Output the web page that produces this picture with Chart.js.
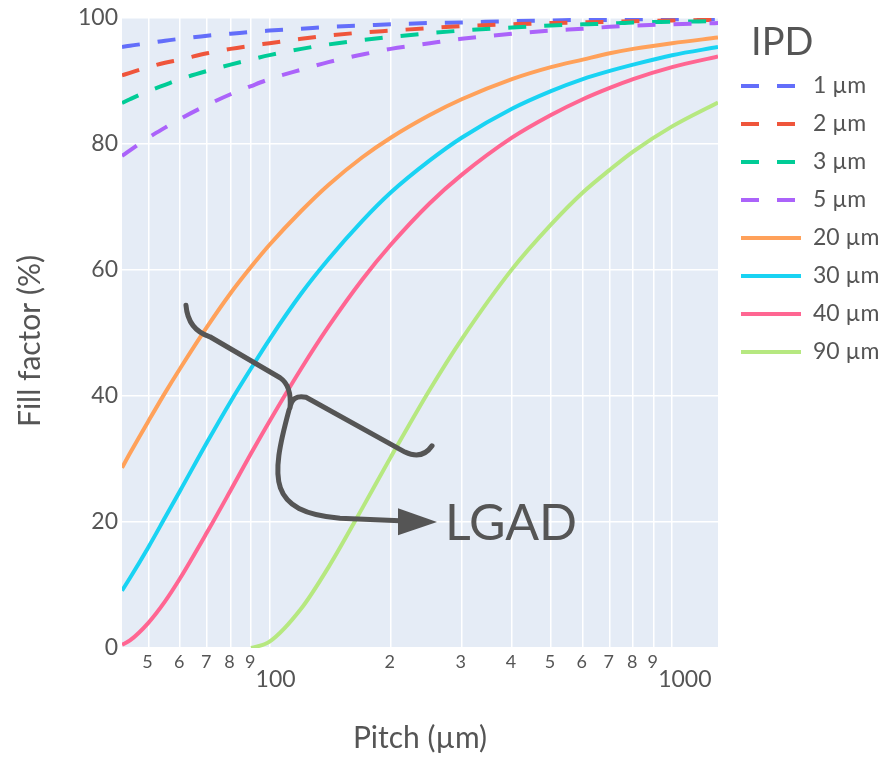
<!DOCTYPE html>
<html>
<head>
<meta charset="utf-8">
<script src="https://cdn.jsdelivr.net/npm/chart.js@4"></script>
<style>
  body { margin: 0; background: #fff; }
  canvas { display: block; }
</style>
</head>
<body>
<canvas id="myChart" width="894" height="757"></canvas>
<script>
const pitch = [43, 45, 50, 55, 60, 70, 80, 90, 100, 120, 140, 170, 200, 250, 300, 400, 500, 600, 700, 800, 1000, 1300];

// fill factor (%) for each inter-pad distance
const ipd1  = [95.4, 95.6, 96.0, 96.4, 96.7, 97.2, 97.5, 97.8, 98.0, 98.3, 98.6, 98.8, 99.0, 99.2, 99.3, 99.5, 99.6, 99.7, 99.7, 99.8, 99.8, 99.8];
const ipd2  = [90.9, 91.3, 92.2, 92.9, 93.4, 94.4, 95.1, 95.6, 96.0, 96.7, 97.2, 97.7, 98.0, 98.4, 98.7, 99.0, 99.2, 99.3, 99.4, 99.5, 99.6, 99.7];
const ipd3  = [86.5, 87.1, 88.4, 89.4, 90.3, 91.6, 92.6, 93.4, 94.1, 95.1, 95.8, 96.5, 97.0, 97.6, 98.0, 98.5, 98.8, 99.0, 99.1, 99.3, 99.4, 99.5];
const ipd5  = [78.1, 79.0, 81.0, 82.6, 84.0, 86.2, 87.9, 89.2, 90.3, 91.8, 93.0, 94.2, 95.1, 96.0, 96.7, 97.5, 98.0, 98.3, 98.6, 98.8, 99.0, 99.2];
const ipd20 = [28.6, 30.9, 36.0, 40.5, 44.4, 51.0, 56.3, 60.5, 64.0, 69.4, 73.5, 77.9, 81.0, 84.6, 87.1, 90.3, 92.2, 93.4, 94.4, 95.1, 96.0, 96.9];
const ipd30 = [9.1, 11.1, 16.0, 20.7, 25.0, 32.7, 39.1, 44.4, 49.0, 56.3, 61.7, 67.8, 72.3, 77.4, 81.0, 85.6, 88.4, 90.3, 91.6, 92.6, 94.1, 95.4];
const ipd40 = [0.5, 1.2, 4.0, 7.4, 11.1, 18.4, 25.0, 30.9, 36.0, 44.4, 51.0, 58.5, 64.0, 70.6, 75.1, 81.0, 84.6, 87.1, 88.9, 90.3, 92.2, 93.9];
const ipd90 = [null, null, null, null, null, null, null, 0.0, 1.0, 6.3, 12.8, 22.2, 30.3, 41.0, 49.0, 60.1, 67.2, 72.3, 75.9, 78.8, 82.8, 86.6];

const ipdLabels = ["1 µm", "2 µm", "3 µm", "5 µm", "20 µm", "30 µm", "40 µm", "90 µm"];
const ipdColors = ["#636efa", "#ef553b", "#00cc96", "#ab63fa", "#ffa15a", "#19d3f3", "#ff6692", "#b6e880"];

// x grid lines and their labels
const xGridValues = [50, 60, 70, 80, 90, 100, 200, 300, 400, 500, 600, 700, 800, 900, 1000];
const xTickText   = ["5", "6", "7", "8", "9", "100", "2", "3", "4", "5", "6", "7", "8", "9", "1000"];

// "LGAD" brace and arrow, in data units (pitch, fill factor)
const bracePath = [
  ["M", 62.0, 54.4],
  ["Q", 62.7, 50.5, 71.1, 49.4],
  ["L", 106.2, 42.9],
  ["Q", 113.7, 41.6, 112.4, 38.1],
  ["Q", 113.7, 40.3, 123.2, 39.8],
  ["L", 217.0, 31.1],
  ["Q", 239.2, 29.8, 253.3, 32.1]
];
const arrowPath = [
  ["M", 111.8, 37.8],
  ["C", 100.3, 26.7, 99.1, 21.6, 149.6, 20.6],
  ["L", 210.9, 20.2]
];
const arrowHead = [[260.6, 20.0], [208.5, 22.2], [208.5, 17.9]];
const lgadLabel = { text: "LGAD", x: 272.8, y: 19.7 };

const textColor = "#555555";
const fontFamily = "Lato, 'Noto Sans', sans-serif";
Chart.defaults.font.family = fontFamily;

const plotBackground = {
  id: "plotBackground",
  beforeDraw(chart) {
    const { ctx, chartArea: a } = chart;
    ctx.save();
    ctx.fillStyle = "#e5ecf6";
    ctx.fillRect(a.left, a.top, a.right - a.left, a.bottom - a.top);
    ctx.restore();
  }
};

const lgadAnnotation = {
  id: "lgadAnnotation",
  afterDatasetsDraw(chart) {
    const { ctx, scales: { x, y } } = chart;
    const px = v => x.getPixelForValue(v);
    const py = v => y.getPixelForValue(v);
    const trace = path => {
      path.forEach(seg => {
        if (seg[0] === "M") ctx.moveTo(px(seg[1]), py(seg[2]));
        else if (seg[0] === "L") ctx.lineTo(px(seg[1]), py(seg[2]));
        else if (seg[0] === "Q") ctx.quadraticCurveTo(px(seg[1]), py(seg[2]), px(seg[3]), py(seg[4]));
        else if (seg[0] === "C") ctx.bezierCurveTo(px(seg[1]), py(seg[2]), px(seg[3]), py(seg[4]), px(seg[5]), py(seg[6]));
      });
    };
    ctx.save();
    ctx.strokeStyle = "#555555";
    ctx.fillStyle = "#555555";
    ctx.lineWidth = 5;
    ctx.lineCap = "round";
    ctx.lineJoin = "round";
    ctx.beginPath();
    trace(bracePath);
    ctx.stroke();
    ctx.beginPath();
    trace(arrowPath);
    ctx.stroke();
    ctx.beginPath();
    arrowHead.forEach((p, i) => i === 0 ? ctx.moveTo(px(p[0]), py(p[1])) : ctx.lineTo(px(p[0]), py(p[1])));
    ctx.closePath();
    ctx.fill();
    ctx.font = "50px " + fontFamily;
    ctx.textAlign = "left";
    ctx.textBaseline = "middle";
    ctx.fillText(lgadLabel.text, px(lgadLabel.x), py(lgadLabel.y));
    ctx.restore();
  }
};

const axisText = {
  id: "axisText",
  afterDraw(chart) {
    const { ctx, chartArea: a, scales: { x } } = chart;
    ctx.save();
    ctx.fillStyle = textColor;
    ctx.textBaseline = "middle";
    // x tick labels, plotly-style log labels
    xGridValues.forEach((v, i) => {
      const gx = x.getPixelForValue(v);
      const label = xTickText[i];
      if (label.length > 1) {
        ctx.font = "23px " + fontFamily;
        ctx.textAlign = "left";
        ctx.fillText(label, gx - 14, a.bottom + 32);
      } else {
        ctx.font = "18px " + fontFamily;
        ctx.textAlign = "center";
        ctx.fillText(label, gx - 1, a.bottom + 14);
      }
    });
    // axis titles
    ctx.font = "30px " + fontFamily;
    ctx.textAlign = "center";
    ctx.fillText("Pitch (µm)", (a.left + a.right) / 2, 738);
    ctx.translate(30, (a.top + a.bottom) / 2 + 8);
    ctx.rotate(-Math.PI / 2);
    ctx.fillText("Fill factor (%)", 0, 0);
    ctx.restore();

    // legend
    ctx.save();
    ctx.fillStyle = textColor;
    ctx.textBaseline = "middle";
    ctx.textAlign = "left";
    ctx.font = "38px " + fontFamily;
    ctx.fillText("IPD", 751, 43);
    ctx.font = "23px " + fontFamily;
    chart.data.datasets.forEach((ds, i) => {
      const ly = 86 + i * 38;
      ctx.strokeStyle = ds.borderColor;
      ctx.lineWidth = 4;
      ctx.setLineDash(ds.borderDash);
      ctx.beginPath();
      ctx.moveTo(741, ly);
      ctx.lineTo(801, ly);
      ctx.stroke();
      ctx.setLineDash([]);
      ctx.fillText(ds.label, 813, ly);
    });
    ctx.restore();
  }
};

const series = [ipd1, ipd2, ipd3, ipd5, ipd20, ipd30, ipd40, ipd90];

new Chart(document.getElementById("myChart"), {
  type: "line",
  data: {
    datasets: series.map((vals, i) => ({
      label: ipdLabels[i],
      data: pitch.map((p, j) => ({ x: p, y: vals[j] })),
      borderColor: ipdColors[i],
      borderWidth: 4,
      borderDash: i < 4 ? [18, 18] : [],
      pointRadius: 0,
      fill: false,
      cubicInterpolationMode: "monotone",
      order: series.length - i
    }))
  },
  options: {
    responsive: false,
    animation: false,
    layout: { padding: { top: 18, right: 176, left: 0, bottom: 0 } },
    plugins: {
      legend: { display: false },
      tooltip: { enabled: false }
    },
    scales: {
      x: {
        type: "logarithmic",
        min: 43,
        max: 1300,
        afterBuildTicks(axis) {
          axis.ticks = xGridValues.map(v => ({ value: v }));
        },
        afterFit(axis) { axis.height = 109; },
        ticks: { display: false },
        grid: { color: "#ffffff", lineWidth: 1.5, drawTicks: false },
        border: { display: false }
      },
      y: {
        min: 0,
        max: 100,
        afterFit(axis) { axis.width = 122; },
        ticks: { stepSize: 20, padding: 4, color: textColor, font: { size: 23 } },
        grid: { color: "#ffffff", lineWidth: 1.5, drawTicks: false },
        border: { display: false }
      }
    }
  },
  plugins: [plotBackground, lgadAnnotation, axisText]
});
</script>
</body>
</html>
